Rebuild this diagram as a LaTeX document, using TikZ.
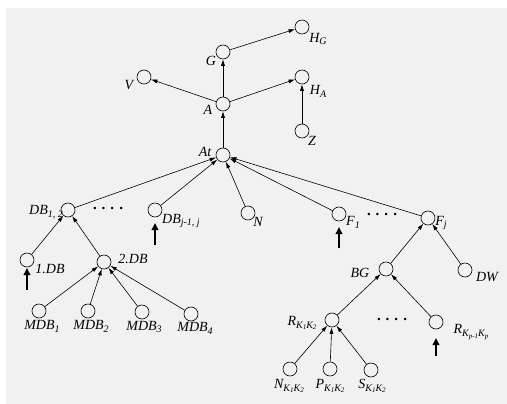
\documentclass[tikz,border=0pt]{standalone}
\usepackage{fontspec}
\setmainfont{Liberation Serif}
\usetikzlibrary{arrows.meta}
\newcommand{\lowsb}[1]{\raisebox{-0.45ex}{\fontsize{10}{10}\selectfont #1}}
\newcommand{\lowsbb}[1]{\raisebox{-0.35ex}{\fontsize{7}{7}\selectfont #1}}
\definecolor{paper}{RGB}{241,241,241}
\tikzset{
  vtx/.style={circle,draw=black,line width=0.6pt,minimum size=14pt,inner sep=0pt},
  lbl/.style={font=\fontsize{14}{14}\selectfont\itshape,inner sep=0pt},
  edge/.style={line width=0.6pt,-{Latex[length=6.5pt,width=4pt]}},
  bold/.style={line width=2.2pt,-{Triangle[length=7pt,width=6.5pt]}},
  dotsl/.style={font=\fontsize{15}{15}\selectfont\bfseries,inner sep=0pt}
}
\begin{document}
\begin{tikzpicture}[x=1pt,y=-1pt]
\useasboundingbox (0,0) rectangle (507,404);
\fill[white] (0,0) rectangle (507,404);
\fill[paper] (6,8) rectangle (507,404);
% vertices
\node[vtx] (HG) at (302,27) {};
\node[vtx] (G) at (223,52) {};
\node[vtx] (V) at (144,77) {};
\node[vtx] (HA) at (302,77) {};
\node[vtx] (A) at (223,104) {};
\node[vtx] (Z) at (302,131) {};
\node[vtx] (At) at (223,155) {};
\node[vtx] (DB12) at (68,210) {};
\node[vtx] (DBj) at (155,210) {};
\node[vtx] (N) at (248,213) {};
\node[vtx] (F1) at (339,214) {};
\node[vtx] (Fj) at (428,218) {};
\node[vtx] (DB1) at (27,260) {};
\node[vtx] (DB2) at (104,262) {};
\node[vtx] (BG) at (386,269) {};
\node[vtx] (DW) at (465,270) {};
\node[vtx] (M1) at (39,311) {};
\node[vtx] (M2) at (88,311) {};
\node[vtx] (M3) at (142,312) {};
\node[vtx] (M4) at (191,314) {};
\node[vtx] (R1) at (332,320) {};
\node[vtx] (Rp) at (436,322) {};
\node[vtx] (NK) at (290,369) {};
\node[vtx] (PK) at (330,369) {};
\node[vtx] (SK) at (371,370) {};
% labels
\node[lbl] (lHG) at (318,39) {H\lowsb{G}};
\node[lbl] (lG) at (211,61) {G};
\node[lbl] (lV) at (129,85) {V};
\node[lbl] (lHA) at (318,91) {H\lowsb{A}};
\node[lbl] (lA) at (208,110) {A};
\node[lbl] (lZ) at (312,141) {Z};
\node[lbl] (lAt) at (205,152) {At};
\node[lbl] (lDB12) at (46,212) {DB\lowsb{1, 2}};
\node[dotsl] (d1) at (108,208) {.\,\,.\,\,.\,\,.};
\node[lbl] (lDBj) at (181,221) {DB\lowsb{j-1, j}};
\node[lbl] (lN) at (258,222) {N};
\node[lbl] (lF1) at (353,222) {F\lowsb{1}};
\node[dotsl] (d2) at (382,214) {.\,\,.\,\,.\,\,.};
\node[lbl] (lFj) at (441,223) {F\lowsb{j}};
\node[lbl] (lDB1) at (50,269) {1.DB};
\node[lbl] (lDB2) at (133,259) {2.DB};
\node[lbl] (lBG) at (360,273) {BG};
\node[lbl] (lDW) at (487,277) {DW};
\node[lbl] (lM1) at (42,326) {MDB\lowsb{1}};
\node[lbl] (lM2) at (91,326) {MDB\lowsb{2}};
\node[lbl] (lM3) at (144,327) {MDB\lowsb{3}};
\node[lbl] (lM4) at (195,328) {MDB\lowsb{4}};
\node[lbl] (lR1) at (302,323) {R\lowsb{K\lowsbb{1}K\lowsbb{2}}};
\node[dotsl] (d3) at (392,319) {.\,\,.\,\,.\,\,.};
\node[lbl] (lRp) at (471,332) {R\lowsb{K\lowsbb{p-1}K\lowsbb{p}}};
\node[lbl] (lNK) at (289,386) {N\lowsb{K\lowsbb{1}K\lowsbb{2}}};
\node[lbl] (lPK) at (330,386) {P\lowsb{K\lowsbb{1}K\lowsbb{2}}};
\node[lbl] (lSK) at (372,386) {S\lowsb{K\lowsbb{1}K\lowsbb{2}}};
% edges
\draw[edge] (G) -- (HG);
\draw[edge] (A) -- (G);
\draw[edge] (A) -- (V);
\draw[edge] (A) -- (HA);
\draw[edge] (Z) -- (HA);
\draw[edge] (At) -- (A);
\draw[edge] (DB12) -- (At);
\draw[edge] (DBj) -- (At);
\draw[edge] (N) -- (At);
\draw[edge] (F1) -- (At);
\draw[edge] (Fj) -- (At);
\draw[edge] (DB1) -- (DB12);
\draw[edge] (DB2) -- (DB12);
\draw[edge] (M1) -- (DB2);
\draw[edge] (M2) -- (DB2);
\draw[edge] (M3) -- (DB2);
\draw[edge] (M4) -- (DB2);
\draw[edge] (BG) -- (Fj);
\draw[edge] (DW) -- (Fj);
\draw[edge] (R1) -- (BG);
\draw[edge] (Rp) -- (BG);
\draw[edge] (NK) -- (R1);
\draw[edge] (PK) -- (R1);
\draw[edge] (SK) -- (R1);
% bold input arrows
\coordinate (b1s) at (27,290); \coordinate (b1e) at (27,268);
\coordinate (b2s) at (155,245); \coordinate (b2e) at (155,223);
\coordinate (b3s) at (339,248); \coordinate (b3e) at (339,227);
\coordinate (b4s) at (436,356); \coordinate (b4e) at (436,338);
\draw[bold] (b1s) -- (b1e);
\draw[bold] (b2s) -- (b2e);
\draw[bold] (b3s) -- (b3e);
\draw[bold] (b4s) -- (b4e);
\end{tikzpicture}
\end{document}
